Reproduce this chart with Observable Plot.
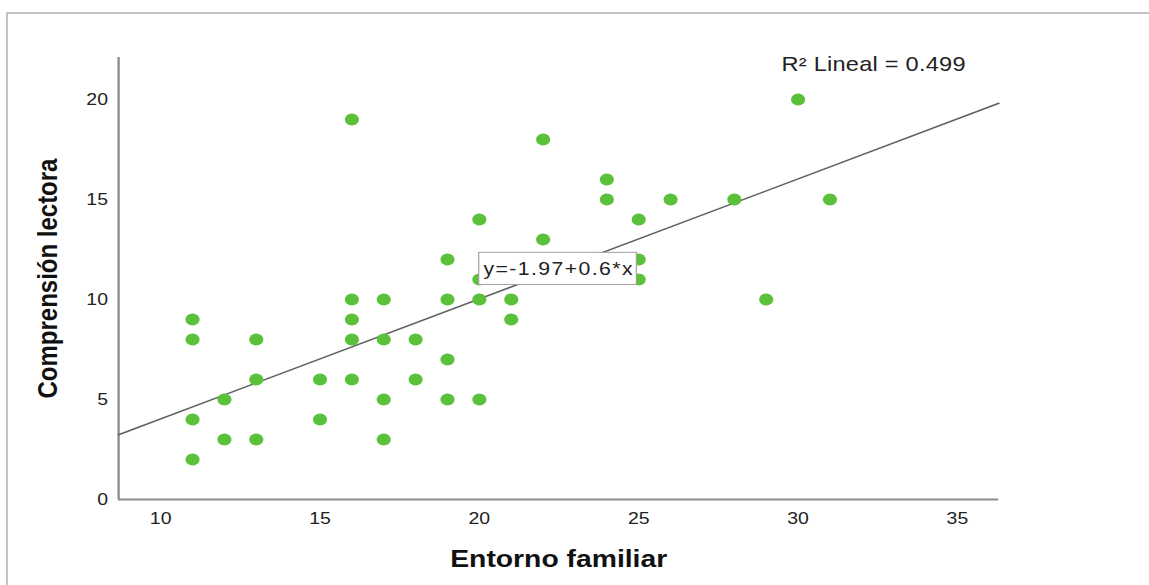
<!DOCTYPE html>
<html>
<head>
<meta charset="utf-8">
<script src="https://cdn.jsdelivr.net/npm/d3@7"></script>
<script src="https://cdn.jsdelivr.net/npm/@observablehq/plot@0.6"></script>
<style>
  html, body { margin: 0; padding: 0; background: #fff; overflow: hidden; }
  #frame { position: absolute; left: 6px; top: 12px; right: 0; bottom: 0;
           border-top: 2px solid #c2c2c2; border-left: 2px solid #c2c2c2; }
  #chart { position: absolute; left: 0; top: 0; transform-origin: 0 0; transform: scaleX(1.18); }
</style>
</head>
<body>
<div id="frame"></div>
<div id="chart"></div>
<script>
// ---- data ----
const entornoFamiliar = [11, 11, 11, 11, 12, 12, 13, 13, 13, 15, 15, 16, 16, 16, 16, 16, 17, 17, 17, 17, 18, 18, 19, 19, 19, 19, 20, 20, 20, 20, 21, 21, 22, 22, 24, 24, 25, 25, 25, 26, 28, 29, 30, 31];
const comprensionLectora = [9, 8, 4, 2, 5, 3, 8, 6, 3, 6, 4, 19, 10, 9, 8, 6, 10, 8, 5, 3, 8, 6, 12, 10, 7, 5, 14, 11, 10, 5, 10, 9, 18, 13, 16, 15, 14, 12, 11, 15, 15, 10, 20, 15];
const xTicks = [10, 15, 20, 25, 30, 35];
const yTicks = [0, 5, 10, 15, 20];
const xDomain = [8.68, 36.3];
const yDomain = [0, 22.1];
const intercept = -1.97;
const slope = 0.6;
const r2Label = "R\u00B2 Lineal = 0.499";
const equationLabel = "y=-1.97+0.6*x";
const xTitle = "Entorno familiar";
const yTitle = "Comprensión lectora";

// ---- derived tables ----
const points = entornoFamiliar.map((x, i) => ({x, y: comprensionLectora[i]}));
const fitLine = xDomain.map(x => ({x, y: intercept + slope * x}));
const xMid = (xDomain[0] + xDomain[1]) / 2;
const eqPoint = [{x: xMid, y: intercept + slope * xMid, label: equationLabel}];

const svg = Plot.plot({
  width: 974,
  height: 585,
  marginLeft: 100,
  marginRight: 128,
  marginTop: 57,
  marginBottom: 86,
  style: {fontFamily: "'Liberation Sans', Arial, sans-serif", fontSize: "16.5px", color: "#222", background: "transparent"},
  x: {domain: xDomain, ticks: xTicks, tickSize: 0, tickPadding: 13, label: null},
  y: {domain: yDomain, ticks: yTicks, tickSize: 0, tickPadding: 9, label: null},
  marks: [
    Plot.ruleY([yDomain[0]], {stroke: "#8c8c8c", strokeWidth: 2}),
    Plot.ruleX([xDomain[0]], {stroke: "#8c8c8c", strokeWidth: 2}),
    Plot.line(fitLine, {x: "x", y: "y", stroke: "#5e625f", strokeWidth: 1.5}),
    Plot.dot(points, {x: "x", y: "y", r: 6, fill: "#5cc13a"}),
    Plot.text(eqPoint, {x: "x", y: "y", text: "label", fontSize: 18, fill: "#222", ariaLabel: "equation"}),
    Plot.text([r2Label], {frameAnchor: "top-right", textAnchor: "end", lineAnchor: "middle", dx: -28, dy: 7, fontSize: 20, fill: "#222", ariaLabel: "r2"}),
    Plot.text([xTitle], {frameAnchor: "bottom", textAnchor: "middle", lineAnchor: "middle", dy: 60, fontSize: 24, fontWeight: "bold", fill: "#111"}),
    Plot.text([yTitle], {frameAnchor: "left", textAnchor: "middle", lineAnchor: "middle", rotate: -90, dx: -60, fontSize: 24, fontWeight: "bold", fill: "#111"})
  ]
});

document.getElementById("chart").appendChild(svg);

// equation label box (SPSS style)
const allTexts = Array.from(svg.querySelectorAll("text"));
const eqText = allTexts.find(t => t.textContent === equationLabel);
const r2Text = allTexts.find(t => t.textContent === r2Label);
if (r2Text) r2Text.style.letterSpacing = "0.2px";
if (eqText) {
  eqText.style.letterSpacing = "1.2px";
  const bb = eqText.getBBox();
  const rect = document.createElementNS("http://www.w3.org/2000/svg", "rect");
  rect.setAttribute("x", bb.x - 4);
  rect.setAttribute("y", bb.y - 6);
  rect.setAttribute("width", bb.width + 6);
  rect.setAttribute("height", bb.height + 12);
  rect.setAttribute("fill", "#ffffff");
  rect.setAttribute("stroke", "#a0a0a0");
  rect.setAttribute("stroke-width", "1");
  const tr = eqText.getAttribute("transform");
  if (tr) rect.setAttribute("transform", tr);
  eqText.parentNode.insertBefore(rect, eqText);
}
</script>
</body>
</html>
